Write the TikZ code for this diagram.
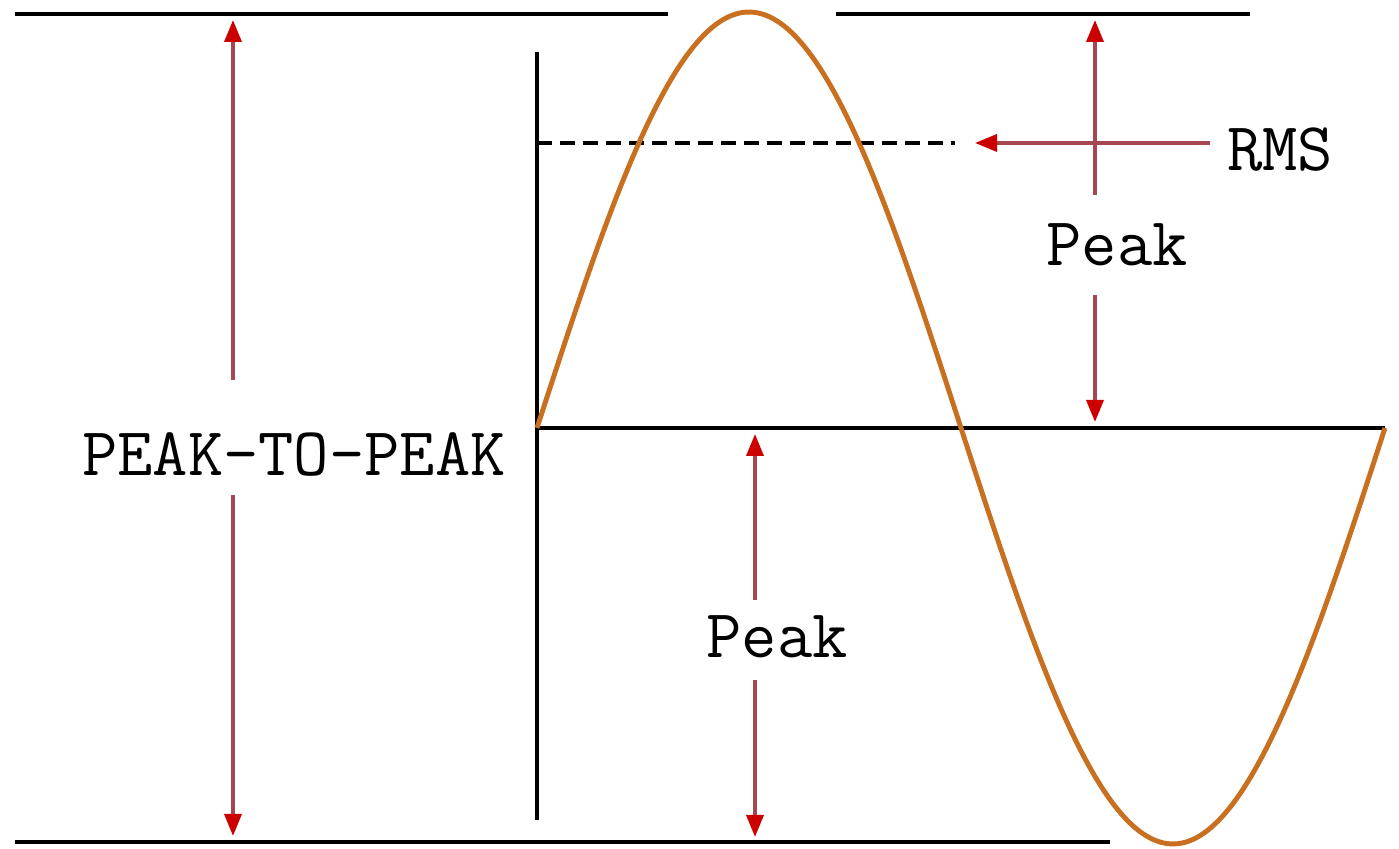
\documentclass[tikz,border=0pt]{standalone}
\usepackage{fontspec}
\usetikzlibrary{arrows.meta}
\definecolor{wave}{RGB}{200,112,32}
\definecolor{arrline}{RGB}{165,70,80}
\definecolor{arrhead}{RGB}{205,0,0}
\tikzset{
  axis/.style={line width=1.4pt, black},
  dim/.style={line width=1pt, arrline, -{Triangle[length=0.22cm,width=0.17cm,color=arrhead]}},
  lbl/.style={inner sep=0pt, font=\ttfamily\fontsize{19.5}{22}\selectfont},
}
\begin{document}
\begin{tikzpicture}
\useasboundingbox (0,0) rectangle (13.99,8.49);
% reference lines
\coordinate (tl1) at (0.15,8.35);
\coordinate (tl2) at (6.68,8.35);
\coordinate (tr1) at (8.36,8.35);
\coordinate (tr2) at (12.50,8.35);
\coordinate (bl1) at (0.15,0.07);
\coordinate (bl2) at (11.10,0.07);
\coordinate (vaxT) at (5.37,7.97);
\coordinate (vaxB) at (5.37,0.29);
\coordinate (origin) at (5.37,4.21);
\coordinate (haxR) at (13.85,4.21);
\coordinate (rmsL) at (5.37,7.06);
\coordinate (rmsR) at (9.55,7.06);
\draw[axis] (tl1) -- (tl2);
\draw[axis] (tr1) -- (tr2);
\draw[axis] (bl1) -- (bl2);
\draw[axis] (vaxT) -- (vaxB);
\draw[axis] (origin) -- (haxR);
\draw[line width=1.2pt, black, dash pattern=on 0.15cm off 0.08cm] (rmsL) -- (rmsR);
% sine wave
\draw[line width=1.4pt, wave] plot[domain=0:360, samples=120, smooth] ({5.37+\x/360*8.48},{4.21+4.16*sin(\x)});
% labels
\node[lbl] (ptp) at (2.94,3.94) {PEAK-TO-PEAK};
\node[lbl] (pkU) at (11.17,6.04) {Peak};
\node[lbl] (pkL) at (7.77,2.12) {Peak};
\node[lbl] (rms) at (12.80,6.99) {RMS};
% arrow end points
\coordinate (ptpA1) at (2.33,4.69);
\coordinate (ptpT) at (2.33,8.29);
\coordinate (ptpA2) at (2.33,3.54);
\coordinate (ptpB) at (2.33,0.13);
\coordinate (pkUA1) at (10.95,6.54);
\coordinate (pkUT) at (10.95,8.29);
\coordinate (pkUA2) at (10.95,5.54);
\coordinate (pkUB) at (10.95,4.27);
\coordinate (pkLA1) at (7.55,2.49);
\coordinate (pkLT) at (7.55,4.15);
\coordinate (pkLA2) at (7.55,1.69);
\coordinate (pkLB) at (7.55,0.12);
\coordinate (rmsA) at (12.10,7.06);
\coordinate (rmsT) at (9.75,7.06);
\draw[dim] (ptpA1) -- (ptpT);
\draw[dim] (ptpA2) -- (ptpB);
\draw[dim] (pkUA1) -- (pkUT);
\draw[dim] (pkUA2) -- (pkUB);
\draw[dim] (pkLA1) -- (pkLT);
\draw[dim] (pkLA2) -- (pkLB);
\draw[dim] (rmsA) -- (rmsT);
\end{tikzpicture}
\end{document}
